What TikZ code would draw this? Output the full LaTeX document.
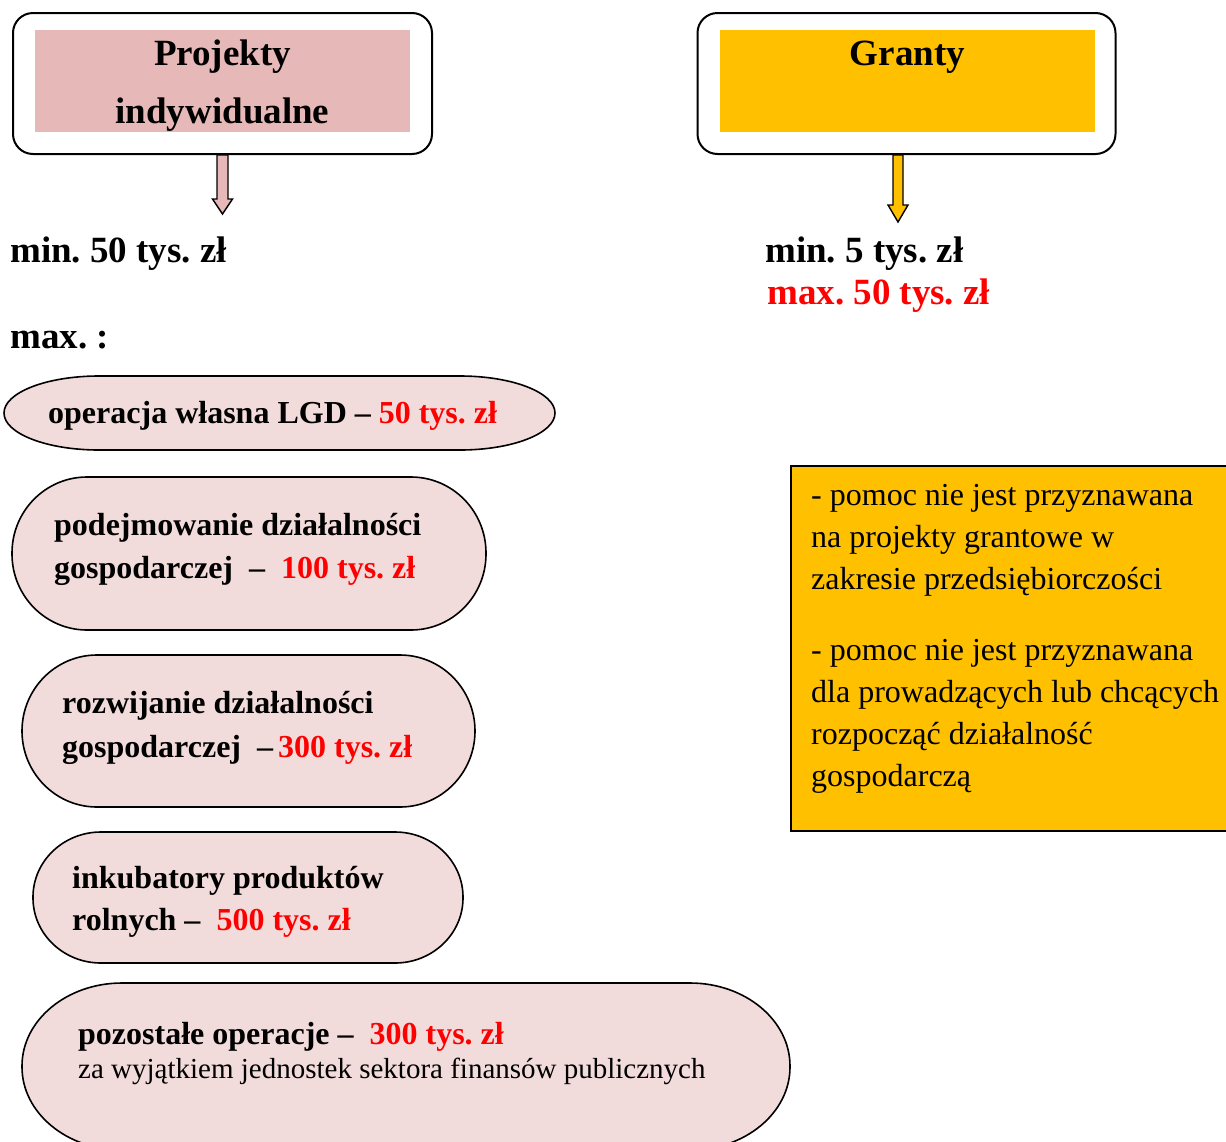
\documentclass[tikz,border=0pt]{standalone}
\usepackage{fontspec}
\setmainfont{Liberation Serif}
\usetikzlibrary{calc}
\frenchspacing
\definecolor{pinkA}{HTML}{E6B8B7}
\definecolor{pinkB}{HTML}{F2DCDB}
\definecolor{goldY}{HTML}{FFC000}
\definecolor{redT}{HTML}{FF0000}
\newcommand\fbig{\fontsize{37}{44}\selectfont\bfseries}
\newcommand\fmidb{\fontsize{32}{38}\selectfont\bfseries}
\newcommand\fmidr{\fontsize{32}{38}\selectfont}
\newcommand\fsmb{\fontsize{32}{38}\selectfont\bfseries}
\newcommand\fsmr{\fontsize{29}{34}\selectfont}
\newcommand\red[1]{\textcolor{redT}{#1}}
% stadium: x1 y1 x2 y2 rx ry
\newcommand\stadium[6]{%
  \filldraw[stadsty] (#1+#5,#2) -- (#3-#5,#2)
    arc[start angle=-90,end angle=0,x radius=#5,y radius=#6]
    -- (#3,#4-#6)
    arc[start angle=0,end angle=90,x radius=#5,y radius=#6]
    -- (#1+#5,#4)
    arc[start angle=90,end angle=180,x radius=#5,y radius=#6]
    -- (#1,#2+#6)
    arc[start angle=180,end angle=270,x radius=#5,y radius=#6]
    -- cycle;}
\tikzset{
  outerbox/.style={draw=black,line width=2pt,rounded corners=20pt,fill=white,inner sep=0},
  innerfill/.style={draw=none,inner sep=0},
  stadsty/.style={draw=black,line width=1.6pt,fill=pinkB},
  txt/.style={inner sep=0,anchor=base west},
  ctxt/.style={inner sep=0,anchor=base},
  blockarrow/.style={draw=black,line width=1.4pt,line join=miter},
}
\begin{document}
\begin{tikzpicture}[x=1pt,y=-1pt]
\useasboundingbox (0,0) rectangle (1226,1141);
\clip (0,0) rectangle (1226,1141);
% top boxes
\node[outerbox,minimum width=419pt,minimum height=141pt] (box1) at (222.5,83.5) {};
\node[innerfill,fill=pinkA,minimum width=375pt,minimum height=102pt] (in1) at (222.5,81) {};
\node[ctxt,font=\fbig] (t1a) at (222.5,65) {Projekty};
\node[ctxt,font=\fbig] (t1b) at (222.5,123) {indywidualne};
\node[outerbox,minimum width=418pt,minimum height=141pt] (box2) at (906.5,83.5) {};
\node[innerfill,fill=goldY,minimum width=375pt,minimum height=102pt] (in2) at (907.5,81) {};
\node[ctxt,font=\fbig] (t2a) at (907.5,65) {Granty};
% block arrows
\filldraw[blockarrow,fill=pinkA] ($(box1.south)+(-5.5,0)$) -- ($(box1.south)+(5.5,0)$) -- ($(box1.south)+(5.5,44)$) -- ($(box1.south)+(10,44)$) -- ($(box1.south)+(0,59)$) -- ($(box1.south)+(-10,44)$) -- ($(box1.south)+(-5.5,44)$) -- cycle;
\filldraw[blockarrow,fill=goldY] ($(box2.south)+(-13.5,0)$) -- ($(box2.south)+(-3.5,0)$) -- ($(box2.south)+(-3.5,50)$) -- ($(box2.south)+(1.5,50)$) -- ($(box2.south)+(-8.5,67)$) -- ($(box2.south)+(-18.5,50)$) -- ($(box2.south)+(-13.5,50)$) -- cycle;
% amount labels
\node[txt,font=\fbig] (min1) at (10,262) {min. 50 tys. zł};
\node[txt,font=\fbig] (max1) at (10,348) {max. :};
\node[txt,font=\fbig] (min2) at (765,262) {min. 5 tys. zł};
\node[txt,font=\fbig,text=redT] (max2) at (767,304) {max. 50 tys. zł};
% stadium shapes
\stadium{4}{376}{555}{450}{95}{37}
\node[txt,font=\fmidb] (s1) at (48,423) {operacja własna LGD – \red{50 tys. zł}};
\stadium{12}{477}{486}{630}{75}{76}
\node[txt,font=\fmidb] (s2a) at (54,535) {podejmowanie działalności};
\node[txt,font=\fmidb] (s2b) at (54,578) {gospodarczej\ \ – \ \red{100 tys. zł}};
\stadium{22}{655}{475}{807}{75}{76}
\node[txt,font=\fmidb] (s3a) at (62,713) {rozwijanie działalności};
\node[txt,font=\fmidb] (s3b) at (62,757) {gospodarczej\ \ –\hspace{5pt}\red{300 tys. zł}};
\stadium{33}{832}{463}{963}{68}{65}
\node[txt,font=\fmidb] (s4a) at (72,888) {inkubatory produktów};
\node[txt,font=\fmidb] (s4b) at (72,930) {rolnych –\ \ \red{500 tys. zł}};
\stadium{22}{983}{790}{1150}{100}{83}
\node[txt,font=\fsmb] (s5a) at (78,1044) {pozostałe operacje –\ \ \red{300 tys. zł}};
\node[txt,font=\fsmr] (s5b) at (78,1078) {za wyjątkiem jednostek sektora finansów publicznych};
% right info box
\draw[line width=2pt,fill=goldY] (791,466) rectangle (1240,831);
\node[txt,font=\fmidr] (r1) at (811,505) {- pomoc nie jest przyznawana};
\node[txt,font=\fmidr] (r2) at (811,547) {na projekty grantowe w};
\node[txt,font=\fmidr] (r3) at (811,589) {zakresie przedsiębiorczości};
\node[txt,font=\fmidr] (r4) at (811,660) {- pomoc nie jest przyznawana};
\node[txt,font=\fmidr] (r5) at (811,702) {dla prowadzących lub chcących};
\node[txt,font=\fmidr] (r6) at (811,744) {rozpocząć działalność};
\node[txt,font=\fmidr] (r7) at (811,786) {gospodarczą};
\end{tikzpicture}
\end{document}
